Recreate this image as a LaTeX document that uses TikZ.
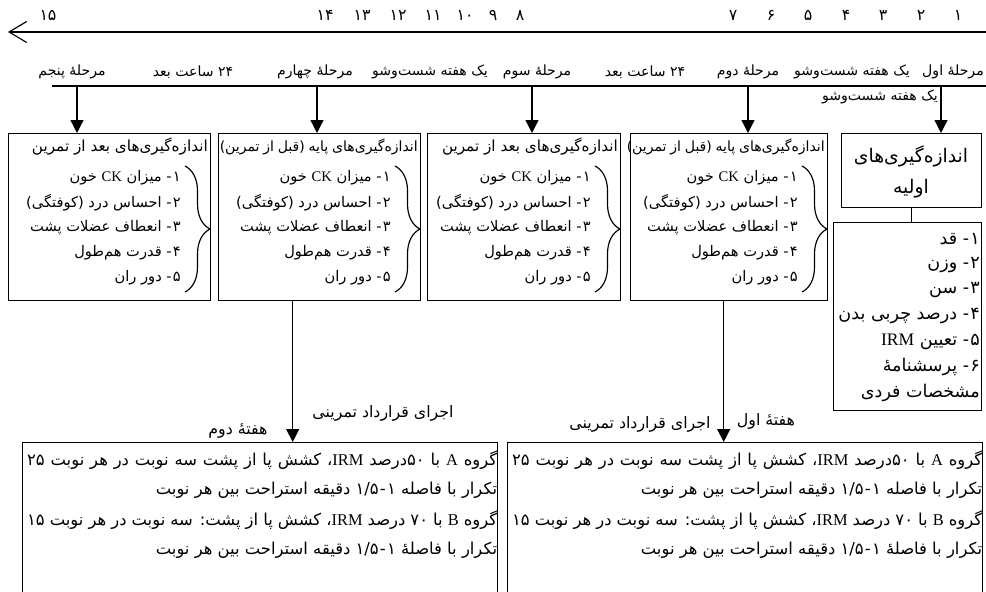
\documentclass[tikz,border=0pt]{standalone}
\usepackage{fontspec}
\usetikzlibrary{arrows.meta, decorations.pathreplacing, math}
\TeXXeTstate=1
\newfontfamily\fa[Script=Arabic]{DejaVu Sans}
\newfontfamily\lat{Liberation Serif}
\newcommand{\fr}[1]{{\fa\beginR #1\endR}}
\newcommand{\la}[1]{{\lat #1}}
\newcommand{\pxu}{0.03cm}
\newcommand{\tafter}{\fontsize{13}{15}\selectfont\fr{اندازه‌گیری‌های بعد از تمرین}}
\newcommand{\tbase}{\hbox to5.94cm{\fontsize{12}{14}\selectfont\fa\beginR اندازه‌گیری‌های پایه (قبل از تمرین)\endR}}
\newlength\rowwd
\setlength\rowwd{14.1cm}

\tikzset{
  box/.style={draw, line width=1.2pt, inner sep=0pt, anchor=north west},
  txt/.style={inner sep=0pt, font=\fontsize{12.5}{15}\selectfont},
  top/.style={inner sep=0pt, font=\fontsize{12}{14}\selectfont},
  lbl/.style={inner sep=0pt, font=\fontsize{13.5}{15}\selectfont},
  big/.style={inner sep=0pt, font=\fontsize{15}{17}\selectfont},
  prot/.style={inner sep=0pt, font=\fontsize{14}{16}\selectfont, anchor=east},
  down/.style={-{Triangle[width=11pt,length=11pt]}, line width=1.1pt},
}

\begin{document}
\begin{tikzpicture}[x=0.03cm, y=-0.03cm]
\useasboundingbox (0,0) rectangle (986,591);
\clip (0,0) rectangle (986,591);

% weeks
\coordinate (tR) at (986,32);
\coordinate (tL) at (8,32);
\draw[line width=2pt, -{Straight Barb[length=15pt,width=18pt,line width=1pt]}] (tR) -- (tL);
\foreach \d/\xx in {۱/958,۲/921,۳/883,۴/846,۵/808,۶/771,۷/733,۸/520,۹/493,۱۰/465,۱۱/433,۱۲/398,۱۳/362,۱۴/325,۱۵/48}
  \node[lbl] (n\xx) at (\xx,15) {\fa\d};

% stages
\coordinate (mL) at (52,86);
\coordinate (mR) at (986,86);
\draw[line width=1.2pt] (mL) -- (mR);
\foreach \t/\xx in {مرحلهٔ پنجم/72, ۲۴ ساعت بعد/193, مرحلهٔ چهارم/315, یک هفته شست‌وشو/430, مرحلهٔ سوم/537, ۲۴ ساعت بعد/645, مرحلهٔ دوم/748, یک هفته شست‌وشو/852, مرحلهٔ اول/953}
  \node[top] (h\xx) at (\xx,72) {\fr{\t}};

% measurement boxes
\foreach \n/\xl/\xr/\ax/\k in {5/8/210/77/0, 4/218/420/317/1, 3/427/620/532/0, 2/630/827/748/1} {
  \node[box, minimum width={(\xr-\xl)*\pxu}, minimum height=167*\pxu] (b\n) at (\xl,133) {};
  \coordinate (s\n) at (\ax,86);
  \draw[down] (s\n) -- (s\n |- b\n.north);
  \node[txt, anchor=east] (t\n) at (\xr-2,147) {\ifnum\k=0 \tafter\else\tbase\fi};
  \foreach \tx [count=\j] in {۱\kern1pt-\ میزان \la{CK} خون, ۲\kern1pt-\ احساس درد (کوفتگی), ۳\kern1pt-\ انعطاف عضلات پشت, ۴\kern1pt-\ قدرت هم‌طول, ۵\kern1pt-\ دور ران}
    \node[txt, anchor=east] (i\n\j) at (\xr-29,153+25*\j) {\fr{\tx}};
  \draw[line width=1pt, decorate, decoration={brace, amplitude=0.75cm}] (\xr-25,166) -- (\xr-25,292);
}

% initial measurements
\node[box, minimum width=140*\pxu, minimum height=74*\pxu] (b1) at (841,133) {};
\coordinate (s1) at (941,86);
\draw[down] (s1) -- (s1 |- b1.north);
\node[top, anchor=east] (w1) at (938,97) {\fr{یک هفته شست‌وشو}};
\node[inner sep=0pt, font=\fontsize{16}{18}\selectfont] (t1a) at (911,156) {\fr{اندازه‌گیری‌های}};
\node[inner sep=0pt, font=\fontsize{16}{18}\selectfont] (t1b) at (911,189) {\fr{اولیه}};
\node[box, minimum width=148*\pxu, minimum height=188*\pxu] (l1) at (833,222) {};
\draw[line width=1.2pt] (b1.south) -- (b1.south |- l1.north);
\foreach \tx [count=\j] in {۱\kern1pt-\ قد, ۲\kern1pt-\ وزن, ۳\kern1pt-\ سن, ۴\kern1pt-\ درصد چربی بدن, ۵\kern1pt-\ تعیین \la{IRM}, ۶\kern1pt-\ پرسشنامهٔ, مشخصات فردی}
  \node[big, anchor=east] (p\j) at (980,214+25.5*\j) {\fr{\tx}};

% training protocol
\node[box, minimum width=475*\pxu, minimum height=170*\pxu] (bl) at (22,442) {};
\node[box, minimum width=475*\pxu, minimum height=170*\pxu] (br) at (507,442) {};
\draw[down] ([xshift=-27*\pxu]b4.south) coordinate (a4) -- (a4 |- bl.north);
\draw[down] ([xshift=-5.5*\pxu]b2.south) coordinate (a2) -- (a2 |- br.north);
\node[lbl] (e4) at (383,413) {\fr{اجرای قرارداد تمرینی}};
\node[lbl] (w4) at (238,431) {\fr{هفتهٔ دوم}};
\node[lbl] (e2) at (640,424) {\fr{اجرای قرارداد تمرینی}};
\node[lbl] (w2) at (766,421) {\fr{هفتهٔ اول}};
\foreach \bx in {bl, br} {
  \node[prot] (\bx1) at ([xshift=-1*\pxu, yshift=-18*\pxu]\bx.north east)
    {\hbox to\rowwd{\fa\beginR گروه \la{A} با ۵۰\kern0pt{}درصد \la{IRM}، کشش پا از پشت سه نوبت در هر نوبت ۲۵\endR}};
  \node[prot] (\bx2) at ([yshift=-30*\pxu]\bx1.east)
    {\fr{تکرار با فاصله ۱\kern1pt-\kern1pt۱/۵ دقیقه استراحت بین هر نوبت}};
  \node[prot] (\bx3) at ([yshift=-30*\pxu]\bx2.east)
    {\hbox to\rowwd{\fa\beginR گروه \la{B} با ۷۰ درصد \la{IRM}، کشش پا از پشت: سه نوبت در هر نوبت ۱۵\endR}};
  \node[prot] (\bx4) at ([yshift=-30*\pxu]\bx3.east)
    {\fr{تکرار با فاصلهٔ ۱\kern1pt-\kern1pt۱/۵ دقیقه استراحت بین هر نوبت}};
}
\end{tikzpicture}
\end{document}
